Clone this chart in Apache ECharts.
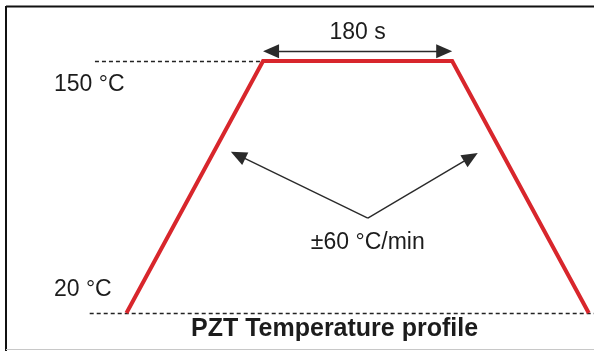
<!DOCTYPE html>
<html>
<head>
<meta charset="utf-8">
<title>PZT Temperature profile</title>
<script src="https://cdn.jsdelivr.net/npm/echarts@6/dist/echarts.min.js"></script>
<style>
  html, body { margin: 0; padding: 0; background: #fff; }
  #chart { width: 594px; height: 351px; }
</style>
</head>
<body>
<div id="chart"></div>
<script>
// Profile breakpoints: time in seconds, temperature in °C
const profileTimes = [0, 130, 310, 440];
const profileTemps = [20, 150, 150, 20];

// Levels and annotation texts
const levelTemps = [20, 150];
const holdLabel = '180 s';
const rateLabel = '\u00B160 \u00B0C/min';
const titleText = 'PZT Temperature profile';

// Annotation anchors (data units)
const holdArrowTemp = 155.0;
const rateVertex = [229.7, 69.0];
const rateLeftTip = [106.2, 101.4];
const rateRightTip = [327.8, 100.4];
const rateTextPos = [229.7, 56.1];

const RED = '#d8262c';
const INK = '#1c1c1c';
const FONT = '"Liberation Sans", Arial, sans-serif';

const profile = profileTimes.map((t, i) => [t, profileTemps[i]]);
const holdStart = profileTimes[1];
const holdEnd = profileTimes[2];
const arrowInset = 7.6; // half an arrowhead, in seconds

const dashed = { type: [4, 3], color: '#222', width: 1.3 };
const arrowStyle = { type: 'solid', color: '#2a2a2a', width: 1.4 };
const head = { symbol: 'triangle', symbolSize: [14, 16], itemStyle: { color: '#000' } };

const chart = echarts.init(document.getElementById('chart'), null, { renderer: 'canvas' });

chart.setOption({
  animation: false,
  backgroundColor: '#fff',
  title: {
    text: titleText,
    left: 191,
    top: 317,
    padding: 0,
    textStyle: { fontFamily: FONT, fontSize: 25, fontWeight: 'bold', color: INK }
  },
  grid: { left: 84.45, right: -0.3, top: 2.85, bottom: 18.6, containLabel: false },
  xAxis: {
    type: 'value', min: -40, max: 445,
    show: false
  },
  yAxis: {
    type: 'value', min: 10, max: 180, interval: 10,
    axisLine: { show: false }, axisTick: { show: false }, splitLine: { show: false },
    axisLabel: {
      show: true,
      align: 'left',
      margin: 30.5,
      fontFamily: FONT,
      fontSize: 23,
      color: INK,
      formatter: function (v) {
        if (v === levelTemps[1]) return '{hi|' + v + ' \u00B0C}';
        if (v === levelTemps[0]) return '{lo|' + v + ' \u00B0C}';
        return '';
      },
      rich: {
        hi: { fontFamily: FONT, fontSize: 23, color: INK, padding: [48, 0, 0, 0] },
        lo: { fontFamily: FONT, fontSize: 23, color: INK, padding: [0, 0, 46, 0] }
      }
    }
  },
  graphic: [
    { type: 'line', shape: { x1: 6, y1: 6.5, x2: 594, y2: 6.5 }, style: { stroke: '#111', lineWidth: 2 } },
    { type: 'line', shape: { x1: 6, y1: 6, x2: 6, y2: 351 }, style: { stroke: '#111', lineWidth: 2 } },
    { type: 'line', shape: { x1: 6, y1: 349.5, x2: 594, y2: 349.5 }, style: { stroke: '#c8c8c8', lineWidth: 1 } }
  ],
  series: [{
    type: 'line',
    data: profile,
    symbol: 'none',
    clip: false,
    lineStyle: { color: RED, width: 4, join: 'miter' },
    z: 3,
    markLine: {
      silent: true,
      animation: false,
      z: 2,
      data: [
        // level guides
        [{ coord: [-35, levelTemps[0]], symbol: 'none', lineStyle: dashed, label: { show: false } },
         { coord: [445, levelTemps[0]], symbol: 'none' }],
        [{ coord: [-30, levelTemps[1]], symbol: 'none', lineStyle: dashed, label: { show: false } },
         { coord: [holdStart, levelTemps[1]], symbol: 'none' }],
        // hold-time arrow
        [Object.assign({ coord: [holdStart + arrowInset, holdArrowTemp],
           lineStyle: arrowStyle,
           label: { show: true, position: 'middle', formatter: holdLabel, distance: 7,
                    fontFamily: FONT, fontSize: 23, color: INK } }, head),
         Object.assign({ coord: [holdEnd - arrowInset, holdArrowTemp] }, head)],
        // ramp-rate arrows
        [{ coord: rateVertex, symbol: 'none', lineStyle: arrowStyle, label: { show: false } },
         Object.assign({ coord: rateLeftTip }, head)],
        [{ coord: rateVertex, symbol: 'none', lineStyle: arrowStyle, label: { show: false } },
         Object.assign({ coord: rateRightTip }, head)]
      ]
    },
    markPoint: {
      silent: true,
      animation: false,
      symbol: 'rect',
      symbolSize: 1,
      itemStyle: { color: 'rgba(0,0,0,0)' },
      data: [{
        coord: rateTextPos,
        label: { show: true, position: 'inside', formatter: rateLabel,
                 fontFamily: FONT, fontSize: 23, color: INK }
      }]
    }
  }]
});
</script>
</body>
</html>
